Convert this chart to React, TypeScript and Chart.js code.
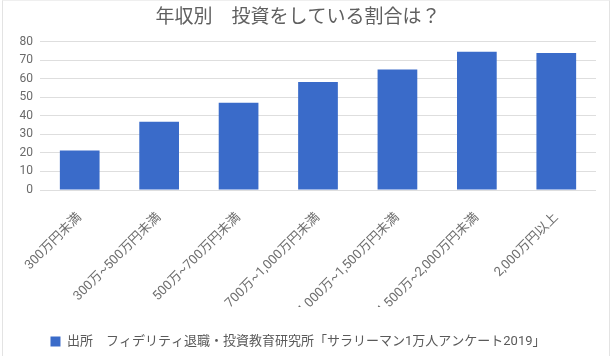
import React, { useEffect, useRef } from "react";
import { Chart, registerables } from "chart.js";

Chart.register(...registerables);

const categories = [
  "300万円未満",
  "300万~500万円未満",
  "500万~700万円未満",
  "700万~1,000万円未満",
  "1,000万~1,500万円未満",
  "1,500万~2,000万円未満",
  "2,000万円以上",
];
const values = [21.3, 36.8, 47.1, 58.3, 65.0, 74.6, 73.9];
const seriesLabel = "出所　フィデリティ退職・投資教育研究所「サラリーマン1万人アンケート2019」";
const titleText = "年収別　投資をしている割合は？";
const yTicks = [0, 10, 20, 30, 40, 50, 60, 70, 80];

const FONT = "Roboto, 'Noto Sans CJK JP', sans-serif";
const BAR = "#3a6bc9";
const CLIP_Y = 307;

const clipPlugin = {
  id: "clipXLabels",
  beforeDraw(chart: any) {
    const sc: any = chart.scales.x;
    if (sc && !sc.__wrapped) {
      const orig = sc.drawLabels;
      sc.drawLabels = function (ca: any) {
        const ctx = this.ctx;
        ctx.save();
        ctx.beginPath();
        ctx.rect(0, this.top, chart.width, CLIP_Y - this.top);
        ctx.clip();
        orig.call(this, ca);
        ctx.restore();
      };
      sc.__wrapped = true;
    }
  },
};

export default function App() {
  const ref = useRef<HTMLCanvasElement | null>(null);
  useEffect(() => {
    document.body.style.margin = "0";
    const chart = new Chart(ref.current!, {
      type: "bar",
      data: {
        labels: categories,
        datasets: [
          {
            label: seriesLabel,
            data: values,
            backgroundColor: BAR,
            borderWidth: 0,
            barPercentage: 0.5,
            categoryPercentage: 1.0,
          },
        ],
      },
      options: {
        animation: false,
        responsive: false,
        devicePixelRatio: 1,
        layout: { padding: { top: 0, left: 0, right: 14, bottom: 6 } },
        plugins: {
          tooltip: { enabled: false },
          title: {
            display: true,
            text: titleText,
            color: "#5f5f5f",
            font: { family: FONT, size: 19, weight: "normal" },
            padding: { top: 7, bottom: 12 },
          },
          legend: {
            display: true,
            position: "bottom",
            labels: {
              color: "#5a5a5a",
              font: { family: FONT, size: 13 },
              boxWidth: 10,
              boxHeight: 10,
              padding: 10,
            },
          },
        },
        scales: {
          x: {
            grid: { display: false },
            border: { display: false },
            ticks: {
              color: "#6e6e6e",
              font: { family: FONT, size: 13 },
              minRotation: 45,
              maxRotation: 45,
              padding: 12,
              autoSkip: false,
            },
            afterFit(scale: any) {
              scale.height = 135;
            },
          },
          y: {
            min: 0,
            max: 80,
            afterBuildTicks(scale: any) {
              scale.ticks = yTicks.map((v) => ({ value: v }));
            },
            grid: { color: "#dedede", drawTicks: false, lineWidth: 1 },
            border: { display: false },
            ticks: {
              color: "#6a6a6a",
              font: { family: FONT, size: 12 },
              padding: 7,
            },
            afterFit(scale: any) {
              scale.width = 40;
            },
          },
        },
      },
      plugins: [clipPlugin],
    });
    return () => chart.destroy();
  }, []);
  return (
    <div style={{ position: "absolute", left: 0, top: 0, width: 610, height: 364, background: "#fff" }}>
      <canvas ref={ref} width={610} height={364} style={{ width: 610, height: 364, display: "block" }} />
      <div
        style={{
          position: "absolute",
          left: 2,
          top: 0,
          width: 608,
          height: 356,
          boxSizing: "border-box",
          borderLeft: "1px solid #e3e3e3",
          borderRight: "1px solid #e3e3e3",
          borderTop: "1px solid #efefef",
          pointerEvents: "none",
        }}
      />
    </div>
  );
}
